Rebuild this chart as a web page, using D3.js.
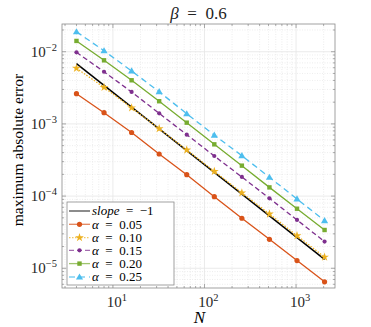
<!DOCTYPE html>
<html>
<head>
<meta charset="utf-8">
<script src="https://cdn.jsdelivr.net/npm/d3@7"></script>
<style>
  body { margin: 0; background: #fff; }
</style>
</head>
<body>
<script>
// sample sizes
var Ns = [4, 8, 16, 32, 64, 128, 256, 512, 1024, 2048]

// max abs error for each alpha
var err005 = [2.62e-3, 1.43e-3, 7.6e-4, 3.83e-4, 1.98e-4, 9.8e-5, 4.93e-5, 2.52e-5, 1.28e-5, 6.5e-6]
var err010 = [5.89e-3, 3.21e-3, 1.67e-3, 8.6e-4, 4.35e-4, 2.2e-4, 1.11e-4, 5.65e-5, 2.83e-5, 1.43e-5]
var err015 = [9.8e-3, 5.28e-3, 2.77e-3, 1.40e-3, 7.1e-4, 3.59e-4, 1.84e-4, 9.3e-5, 4.67e-5, 2.34e-5]
var err020 = [1.41e-2, 7.6e-3, 4.02e-3, 2.06e-3, 1.04e-3, 5.21e-4, 2.64e-4, 1.32e-4, 6.68e-5, 3.39e-5]
var err025 = [1.89e-2, 1.03e-2, 5.41e-3, 2.79e-3, 1.38e-3, 7.0e-4, 3.63e-4, 1.82e-4, 9.12e-5, 4.56e-5]

// reference slope line end points
var slopeN = [4, 2048]
var slopeErr = [6.82e-3, 1.33e-5]

var alphaLabels = ['0.05', '0.10', '0.15', '0.20', '0.25']
var xTickExp = [1, 2, 3]
var yTickExp = [-2, -3, -4, -5]

var series = [
  {label: alphaLabels[0], vals: err005, color: '#D95319', dash: null, marker: 'circle'},
  {label: alphaLabels[1], vals: err010, color: '#EDB120', dash: '1.5,1.5', marker: 'star'},
  {label: alphaLabels[2], vals: err015, color: '#7E2F8E', dash: '5,3', marker: 'dot'},
  {label: alphaLabels[3], vals: err020, color: '#77AC30', dash: null, marker: 'square'},
  {label: alphaLabels[4], vals: err025, color: '#4DBEEE', dash: '6,4', marker: 'triangle'}
]

var W = 371, H = 327
var m = {left: 62, top: 24, right: 36, bottom: 39}
var w = W - m.left - m.right, h = H - m.top - m.bottom

var svg = d3.select('body').append('svg').attr('width', W).attr('height', H)
  .attr('font-family', '"Liberation Serif", "DejaVu Serif", "Times New Roman", serif')
var g = svg.append('g').attr('transform', 'translate(' + m.left + ',' + m.top + ')')

var x = d3.scaleLog().domain([2.78, 2662]).range([0, w])
var y = d3.scaleLog().domain([5.33e-6, 0.0242]).range([h, 0])

// minor grid
var minorX = [], minorY = []
for (var k = 0; k <= 3; k++) for (var j = 2; j <= 9; j++) {
  var v = j * Math.pow(10, k)
  if (v >= x.domain()[0] && v <= x.domain()[1]) minorX.push(v)
}
for (var k = -6; k <= -2; k++) for (var j = 2; j <= 9; j++) {
  var v = j * Math.pow(10, k)
  if (v >= y.domain()[0] && v <= y.domain()[1]) minorY.push(v)
}

g.selectAll('.mgx').data(minorX).enter().append('line')
  .attr('x1', d => x(d)).attr('x2', d => x(d)).attr('y1', 0).attr('y2', h)
  .attr('stroke', '#e0e0e0').attr('stroke-width', 0.6).attr('stroke-dasharray', '1,1.5')
g.selectAll('.mgy').data(minorY).enter().append('line')
  .attr('y1', d => y(d)).attr('y2', d => y(d)).attr('x1', 0).attr('x2', w)
  .attr('stroke', '#e0e0e0').attr('stroke-width', 0.6).attr('stroke-dasharray', '1,1.5')

// major grid
g.selectAll('.gx').data(xTickExp).enter().append('line')
  .attr('x1', d => x(Math.pow(10, d))).attr('x2', d => x(Math.pow(10, d))).attr('y1', 0).attr('y2', h)
  .attr('stroke', '#e6e6e6').attr('stroke-width', 0.8)
g.selectAll('.gy').data(yTickExp).enter().append('line')
  .attr('y1', d => y(Math.pow(10, d))).attr('y2', d => y(Math.pow(10, d))).attr('x1', 0).attr('x2', w)
  .attr('stroke', '#e6e6e6').attr('stroke-width', 0.8)

// box + inward ticks
var axCol = '#8a8a8a'
g.append('rect').attr('width', w).attr('height', h).attr('fill', 'none').attr('stroke', axCol).attr('stroke-width', 0.8)

function ticksX(vals, len) {
  vals.forEach(function(v){
    g.append('line').attr('x1', x(v)).attr('x2', x(v)).attr('y1', h).attr('y2', h - len).attr('stroke', axCol).attr('stroke-width', 0.7)
    g.append('line').attr('x1', x(v)).attr('x2', x(v)).attr('y1', 0).attr('y2', len).attr('stroke', axCol).attr('stroke-width', 0.7)
  })
}
function ticksY(vals, len) {
  vals.forEach(function(v){
    g.append('line').attr('y1', y(v)).attr('y2', y(v)).attr('x1', 0).attr('x2', len).attr('stroke', axCol).attr('stroke-width', 0.7)
    g.append('line').attr('y1', y(v)).attr('y2', y(v)).attr('x1', w).attr('x2', w - len).attr('stroke', axCol).attr('stroke-width', 0.7)
  })
}
ticksX(xTickExp.map(d => Math.pow(10, d)), 4)
ticksX(minorX, 2)
ticksY(yTickExp.map(d => Math.pow(10, d)), 4)
ticksY(minorY, 2)

// tick labels
function powLabel(sel, e) {
  sel.append('tspan').text('10')
  sel.append('tspan').attr('dy', -6).attr('font-size', 10.5).text(e < 0 ? '\u2212' + (-e) : e)
}
xTickExp.forEach(function(e){
  var t = g.append('text').attr('x', x(Math.pow(10, e)) + 4).attr('y', h + 19)
    .attr('text-anchor', 'middle').attr('font-size', 15).attr('fill', '#262626')
  powLabel(t, e)
})
yTickExp.forEach(function(e){
  var t = g.append('text').attr('x', -5).attr('y', y(Math.pow(10, e)) + 5)
    .attr('text-anchor', 'end').attr('font-size', 15).attr('fill', '#262626')
  powLabel(t, e)
})

// markers
function drawMarker(sel, type, color, cx, cy) {
  if (type === 'circle') {
    sel.append('circle').attr('cx', cx).attr('cy', cy).attr('r', 2.6).attr('fill', color)
  } else if (type === 'dot') {
    sel.append('circle').attr('cx', cx).attr('cy', cy).attr('r', 2.1).attr('fill', color)
  } else if (type === 'square') {
    sel.append('rect').attr('x', cx - 2.2).attr('y', cy - 2.2).attr('width', 4.4).attr('height', 4.4).attr('fill', color)
  } else if (type === 'star') {
    sel.append('path').attr('d', d3.symbol(d3.symbolStar, 24)()).attr('transform', 'translate(' + cx + ',' + cy + ')').attr('fill', color)
  } else if (type === 'triangle') {
    sel.append('path').attr('d', d3.symbol(d3.symbolTriangle, 22)()).attr('transform', 'translate(' + cx + ',' + (cy + 0.5) + ')').attr('fill', color)
  }
}

var line = d3.line().x(d => x(d[0])).y(d => y(d[1]))

// slope line
g.append('path').attr('d', line(d3.zip(slopeN, slopeErr)))
  .attr('fill', 'none').attr('stroke', '#000').attr('stroke-width', 1.5)

series.forEach(function(s){
  var pts = d3.zip(Ns, s.vals)
  g.append('path').attr('d', line(pts)).attr('fill', 'none').attr('stroke', s.color)
    .attr('stroke-width', 1.3).attr('stroke-dasharray', s.dash)
  var mg = g.append('g')
  pts.forEach(p => drawMarker(mg, s.marker, s.color, x(p[0]), y(p[1])))
})

// legend
var lg = svg.append('g').attr('transform', 'translate(67,202)')
lg.append('rect').attr('width', 107).attr('height', 83).attr('fill', '#fff').attr('stroke', axCol).attr('stroke-width', 0.8)
var rowY = [9, 22.3, 35.6, 48.3, 61.6, 75]
lg.append('line').attr('x1', 2).attr('x2', 23).attr('y1', rowY[0]).attr('y2', rowY[0]).attr('stroke', '#666').attr('stroke-width', 1.5)
var t0 = lg.append('text').attr('x', 25).attr('y', rowY[0] + 4.3).attr('font-size', 13)
t0.append('tspan').attr('font-style', 'italic').text('slope')
t0.append('tspan').text('\u2002=\u2002\u22121')
series.forEach(function(s, i){
  var yy = rowY[i + 1]
  lg.append('line').attr('x1', 2).attr('x2', 23).attr('y1', yy).attr('y2', yy).attr('stroke', s.color)
    .attr('stroke-width', 1.3).attr('stroke-dasharray', s.dash).attr('opacity', 0.7)
  drawMarker(lg, s.marker, s.color, 12.5, yy)
  var t = lg.append('text').attr('x', 25).attr('y', yy + 4.3).attr('font-size', 13)
  t.append('tspan').attr('font-style', 'italic').text('\u03b1')
  t.append('tspan').text('\u2002=\u2002' + s.label)
})

// title and axis labels
var tt = svg.append('text').attr('x', m.left + w / 2).attr('y', 19).attr('text-anchor', 'middle').attr('font-size', 17).attr('fill', '#222')
tt.append('tspan').attr('font-style', 'italic').text('\u03b2')
tt.append('tspan').text('\u2002=\u20020.6')

svg.append('text').attr('x', m.left + w / 2 + 1).attr('y', 323).attr('text-anchor', 'middle')
  .attr('font-size', 17).attr('font-style', 'italic').text('N')

svg.append('text').attr('transform', 'translate(23,' + (m.top + h / 2 - 6) + ') rotate(-90)')
  .attr('text-anchor', 'middle').attr('font-size', 15.5).text('maximum absolute error')
</script>
</body>
</html>
